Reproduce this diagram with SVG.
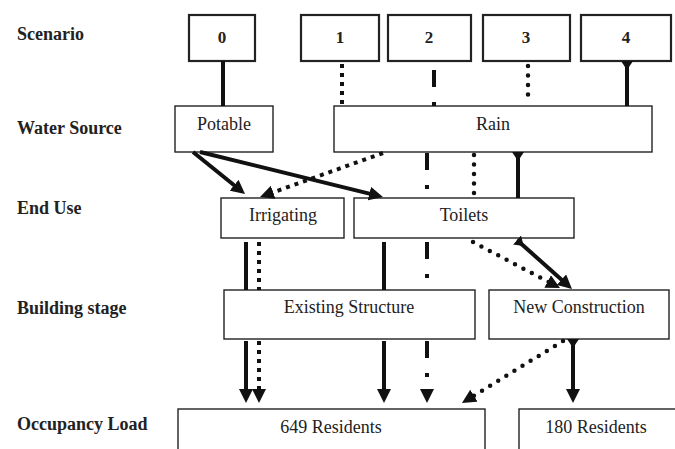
<svg xmlns="http://www.w3.org/2000/svg" width="675" height="449" viewBox="0 0 675 449">
<defs>
<marker id="ah" viewBox="0 0 14 14" refX="2" refY="7" markerWidth="14" markerHeight="14" markerUnits="userSpaceOnUse" orient="auto"><path d="M0,0 L14,7 L0,14 z" fill="#111"/></marker>
<marker id="tail" viewBox="0 0 9 12" refX="0" refY="6" markerWidth="9" markerHeight="12" markerUnits="userSpaceOnUse" orient="auto"><path d="M0,0 L9,6 L0,12 z" fill="#111"/></marker>
</defs>
<style>
.lbl{font-family:"Liberation Serif","Times New Roman",serif;font-size:18px;font-weight:bold;fill:#222}
.num{font-family:"Liberation Serif","Times New Roman",serif;font-size:17px;font-weight:bold;fill:#222;text-anchor:middle}
.txt{font-family:"Liberation Serif","Times New Roman",serif;font-size:18px;fill:#222;text-anchor:middle}
.sbox{fill:#fff;stroke:#222;stroke-width:2.2}
.box{fill:#fff;stroke:#222;stroke-width:1.4}
.c{fill:none;stroke:#111;stroke-width:4}
.sq{stroke-dasharray:4 5}
.dd{stroke-dasharray:17 15 4 15}
.rd{stroke-dasharray:0 9.5;stroke-linecap:round;stroke-width:4.5}
</style>
<g id="labels">
<text class="lbl" x="17" y="40">Scenario</text>
<text class="lbl" x="17" y="134">Water Source</text>
<text class="lbl" x="17" y="214">End Use</text>
<text class="lbl" x="17" y="314">Building stage</text>
<text class="lbl" x="17" y="430">Occupancy Load</text>
</g>
<g id="s0"><rect class="sbox" x="189" y="15" width="66" height="46"/><text class="num" x="222" y="43">0</text></g>
<g id="s1"><rect class="sbox" x="301" y="15" width="78" height="46"/><text class="num" x="340" y="43">1</text></g>
<g id="s2"><rect class="sbox" x="388" y="15" width="83" height="46"/><text class="num" x="429" y="43">2</text></g>
<g id="s3"><rect class="sbox" x="483" y="15" width="87" height="46"/><text class="num" x="526" y="43">3</text></g>
<g id="s4"><rect class="sbox" x="581" y="15" width="90" height="46"/><text class="num" x="626" y="43">4</text></g>
<g id="potable"><rect class="box" x="175" y="106" width="98" height="46"/><text class="txt" x="224" y="130">Potable</text></g>
<g id="rain"><rect class="box" x="334" y="106" width="318" height="46"/><text class="txt" x="493" y="130">Rain</text></g>
<g id="irrigating"><rect class="box" x="221" y="198" width="123" height="40"/><text class="txt" x="283" y="221">Irrigating</text></g>
<g id="toilets"><rect class="box" x="354" y="198" width="220" height="40"/><text class="txt" x="464" y="221">Toilets</text></g>
<g id="existing"><rect class="box" x="224" y="290" width="251" height="49"/><text class="txt" x="349" y="313">Existing Structure</text></g>
<g id="newc"><rect class="box" x="489" y="290" width="180" height="49"/><text class="txt" x="579" y="313">New Construction</text></g>
<g id="res649"><rect class="box" x="178" y="409" width="307" height="50"/><text class="txt" x="331" y="433">649 Residents</text></g>
<g id="res180"><rect class="box" x="519" y="409" width="165" height="50"/><text class="txt" x="596" y="433">180 Residents</text></g>
<g id="connectors">
<line class="c" x1="223" y1="61" x2="223" y2="106"/>
<line class="c sq" x1="342" y1="64" x2="342" y2="106"/>
<line class="c dd" x1="434" y1="64" x2="434" y2="106" style="stroke-dashoffset:-6"/>
<line class="c rd" x1="528" y1="66" x2="528" y2="104"/>
<line class="c" x1="627" y1="61" x2="627" y2="106" marker-start="url(#tail)"/>
<line class="c" x1="193" y1="152" x2="235.7" y2="186.5" marker-end="url(#ah)"/>
<line class="c" x1="200" y1="152" x2="371.3" y2="194.1" marker-end="url(#ah)"/>
<line class="c sq" x1="383" y1="153" x2="271.3" y2="193" marker-end="url(#ah)"/>
<line class="c dd" x1="427" y1="153" x2="427" y2="198"/>
<line class="c rd" x1="474" y1="155" x2="474" y2="198"/>
<line class="c" x1="518" y1="152" x2="518" y2="198" marker-start="url(#tail)"/>
<line class="c" x1="246" y1="242" x2="246" y2="290"/>
<line class="c sq" x1="259" y1="242" x2="259" y2="290"/>
<line class="c" x1="384" y1="242" x2="384" y2="290"/>
<line class="c dd" x1="427" y1="242" x2="427" y2="290"/>
<line class="c rd" x1="473" y1="242" x2="549.4" y2="282.4" marker-end="url(#ah)"/>
<line class="c" x1="517" y1="240" x2="563" y2="281" marker-start="url(#tail)" marker-end="url(#ah)"/>
<line class="c" x1="246" y1="341" x2="246" y2="391" marker-end="url(#ah)"/>
<line class="c sq" x1="259" y1="341" x2="259" y2="391" marker-end="url(#ah)"/>
<line class="c" x1="384" y1="341" x2="384" y2="391" marker-end="url(#ah)"/>
<line class="c dd" x1="427" y1="341" x2="427" y2="391" marker-end="url(#ah)"/>
<line class="c rd" x1="563" y1="341" x2="472.2" y2="396.7" marker-end="url(#ah)"/>
<line class="c" x1="573" y1="339" x2="573" y2="391" marker-start="url(#tail)" marker-end="url(#ah)"/>
</g>
</svg>
